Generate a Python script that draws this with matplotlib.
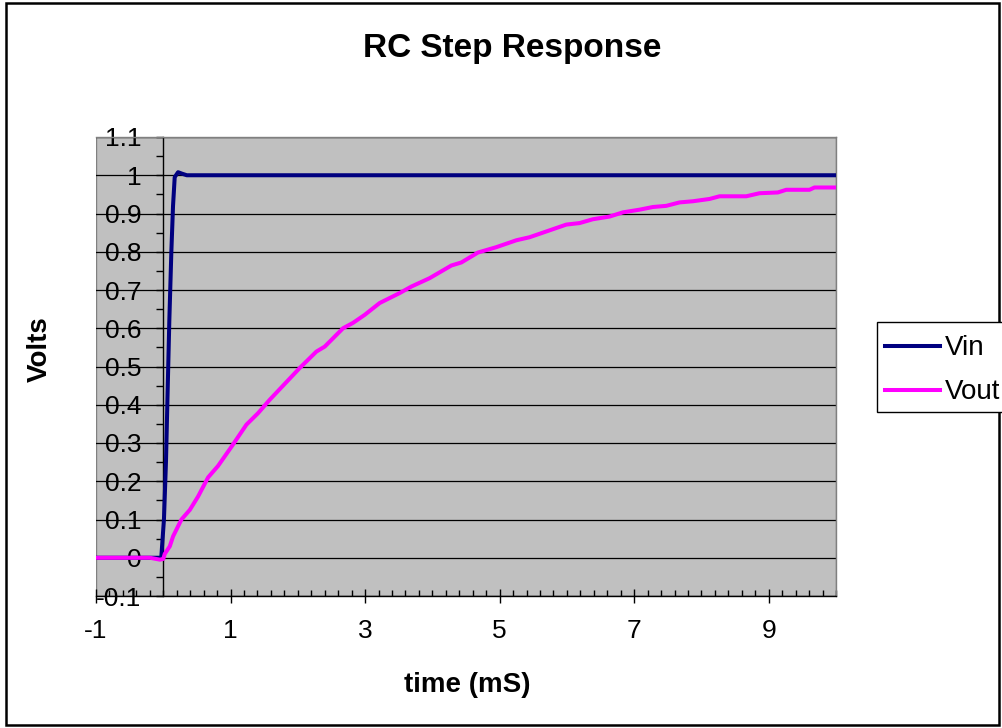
import matplotlib
matplotlib.use("Agg")
import matplotlib.pyplot as plt
from matplotlib.ticker import MultipleLocator, FixedLocator
from matplotlib.patches import Rectangle
from matplotlib.lines import Line2D

plt.rcParams['font.family'] = ['Liberation Sans', 'DejaVu Sans']

# ---- data ----
vin_t = [-1.0, -0.03, 0.01, 0.04, 0.06, 0.09, 0.12, 0.145, 0.17, 0.22, 0.28, 0.35, 10.0]
vin_v = [0.0, 0.0, 0.10, 0.25, 0.40, 0.62, 0.80, 0.92, 0.995, 1.008, 1.004, 1.0, 1.0]

vout_t = [-1.0, -0.2, -0.05, 0.0, 0.022, 0.097, 0.146, 0.270, 0.394, 0.517, 0.666, 0.814,
          1.013, 1.236, 1.409, 1.582, 2.028, 2.276, 2.400, 2.672, 2.820, 2.994, 3.217,
          3.514, 3.688, 3.960, 4.282, 4.431, 4.678, 4.951, 5.248, 5.446, 5.743, 5.991,
          6.189, 6.386, 6.634, 6.832, 7.080, 7.278, 7.477, 7.675, 7.872, 8.120, 8.269,
          8.666, 8.863, 9.135, 9.260, 9.606, 9.680, 10.0]
vout_v = [0.0, 0.0, -0.005, -0.003, 0.01, 0.03, 0.056, 0.10, 0.125, 0.16, 0.21, 0.24,
          0.29, 0.348, 0.378, 0.413, 0.496, 0.539, 0.552, 0.600, 0.614, 0.635, 0.666,
          0.692, 0.709, 0.731, 0.764, 0.772, 0.798, 0.812, 0.830, 0.838, 0.856, 0.871,
          0.875, 0.885, 0.892, 0.903, 0.910, 0.917, 0.920, 0.929, 0.932, 0.938, 0.945,
          0.945, 0.953, 0.955, 0.962, 0.962, 0.968, 0.968]

x_ticks = [-1, 1, 3, 5, 7, 9]
y_ticks = [-0.1, 0, 0.1, 0.2, 0.3, 0.4, 0.5, 0.6, 0.7, 0.8, 0.9, 1, 1.1]
y_labels = ['-0.1', '0', '0.1', '0.2', '0.3', '0.4', '0.5', '0.6', '0.7', '0.8', '0.9', '1', '1.1']

title = "RC Step Response"
xlabel = "time (mS)"
ylabel = "Volts"

W, H = 1003, 728
fig = plt.figure(figsize=(W / 100, H / 100), dpi=100)
fig.patch.set_facecolor('white')
fig.patches.append(Rectangle((0.006, 0.004), 0.99, 0.992, transform=fig.transFigure,
                             fill=False, edgecolor='black', linewidth=1.8, zorder=0))

ax = fig.add_axes([96 / W, 1 - 596 / H, 740 / W, 459 / H])
ax.set_facecolor('#C0C0C0')
ax.set_xlim(-1, 10)
ax.set_ylim(-0.1, 1.1)

# gridlines
for y in y_ticks:
    ax.axhline(y, color='black', linewidth=0.9, zorder=1)

ax.plot(vin_t, vin_v, color='#000080', linewidth=2.9, label='Vin', zorder=3,
        solid_joinstyle='round')
ax.plot(vout_t, vout_v, color='#FF00FF', linewidth=2.9, label='Vout', zorder=3,
        solid_joinstyle='round')

# spines
for s in ['top', 'right']:
    ax.spines[s].set_color('#808080')
    ax.spines[s].set_linewidth(1.0)
ax.spines['left'].set_position(('data', 0))
ax.spines['left'].set_color('black')
ax.spines['left'].set_linewidth(1.0)
ax.spines['bottom'].set_color('black')
ax.spines['bottom'].set_linewidth(1.0)
ax.add_patch(Rectangle((0, 0), 1, 1, transform=ax.transAxes, fill=False,
                       edgecolor='#808080', linewidth=1.0, zorder=0.5))

ax.set_xticks(x_ticks)
ax.set_xticklabels([str(v) for v in x_ticks])
ax.xaxis.set_minor_locator(MultipleLocator(0.2))
ax.tick_params(axis='x', which='major', direction='inout', length=9.5, width=1,
               labelsize=19, pad=12)
ax.tick_params(axis='x', which='minor', direction='in', length=4.3, width=1)

ax.set_yticks(y_ticks)
ax.set_yticklabels(y_labels)
ax.yaxis.set_minor_locator(FixedLocator([-0.05 + 0.1 * i for i in range(12)]))
ax.tick_params(axis='y', which='major', direction='out', length=5, width=1,
               labelsize=19, pad=10.8)
ax.tick_params(axis='y', which='minor', direction='out', length=5, width=1)

fig.text(0.511, 1 - 49 / H, title, ha='center', va='center', fontsize=24, fontweight='bold')
fig.text(0.466, 0.059, xlabel, ha='center', va='center', fontsize=20, fontweight='bold')
fig.text(0.040, 1 - 349 / H, ylabel, ha='center', va='center', fontsize=20, fontweight='bold',
         rotation=90)

# legend frame drawn separately so its padding can be set freely
fig.patches.append(Rectangle((877 / W, 1 - 412 / H), 140 / W, 90 / H,
                             transform=fig.transFigure, facecolor='white',
                             edgecolor='black', linewidth=1.0, zorder=2))
leg = fig.legend(handles=[Line2D([], [], color='#000080', linewidth=2.9),
                          Line2D([], [], color='#FF00FF', linewidth=2.9)],
                 labels=['Vin', 'Vout'], loc='upper left',
                 bbox_to_anchor=(877 / W, 1 - 327 / H), bbox_transform=fig.transFigure,
                 fontsize=20, frameon=False, handlelength=1.95,
                 handletextpad=0.21, borderpad=0.3, labelspacing=0.65, borderaxespad=0)
leg.set_zorder(3)

fig.savefig('out.png', dpi=100)
